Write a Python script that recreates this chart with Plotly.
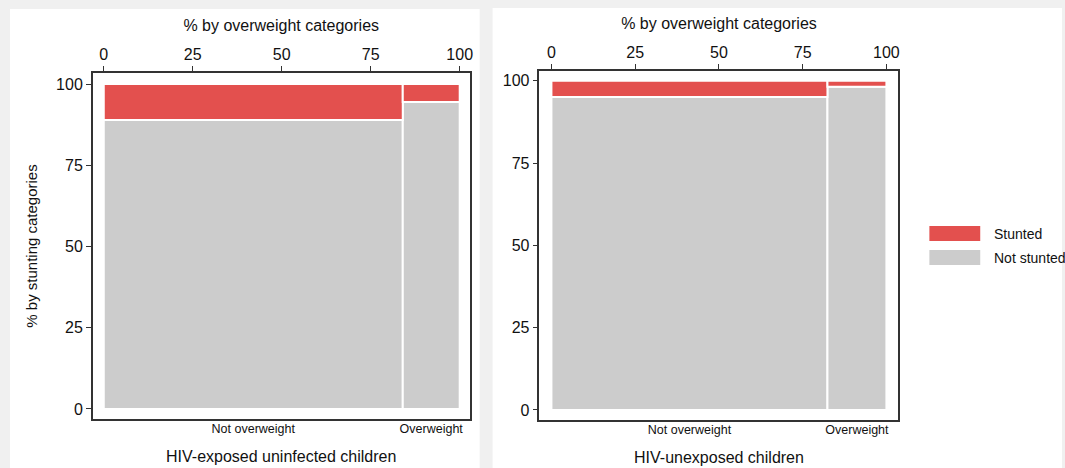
import plotly.graph_objects as go

# Mosaic data: share of each overweight category (column width, %) and
# share stunted / not stunted within each column (%).
categories = ["Not overweight", "Overweight"]
groups = ["HIV-exposed uninfected children", "HIV-unexposed children"]

heu_width = [84.0, 16.0]
heu_stunted = [11.1, 5.5]
heu_not_stunted = [88.9, 94.5]

hue_width = [82.4, 17.6]
hue_stunted = [4.9, 1.8]
hue_not_stunted = [95.1, 98.2]

series_names = ["Stunted", "Not stunted"]
ticks = [0, 25, 50, 75, 100]

RED = "#e3504e"
GREY = "#cccccc"
FONT = "Liberation Sans, Arial, sans-serif"
W, H = 1065, 468


def px_x(v):
    return v / W


def px_y(v):
    return 1 - v / H


fig = go.Figure()

panels = [
    dict(widths=heu_width, stunted=heu_stunted, not_stunted=heu_not_stunted,
         xa="x", ya="y", xa2="x3",
         xdom=[93, 471], ydom=[73, 419],
         xrange=[-3.1, 102.8], yrange=[-3.1, 103.4], showy=True),
    dict(widths=hue_width, stunted=hue_stunted, not_stunted=hue_not_stunted,
         xa="x2", ya="y2", xa2="x4",
         xdom=[541, 901], ydom=[71, 420],
         xrange=[-3.57, 103.6], yrange=[-3.04, 103.0], showy=False),
]

for p in panels:
    lefts = [sum(p["widths"][:i]) for i in range(len(p["widths"]))]
    centers = [l + w / 2 for l, w in zip(lefts, p["widths"])]
    fig.add_trace(go.Bar(
        x=centers, y=p["not_stunted"], width=p["widths"], base=0,
        marker=dict(color=GREY, line=dict(color="white", width=2)),
        name=series_names[1], showlegend=False, xaxis=p["xa"], yaxis=p["ya"]))
    fig.add_trace(go.Bar(
        x=centers, y=p["stunted"], width=p["widths"], base=p["not_stunted"],
        marker=dict(color=RED, line=dict(color="white", width=2)),
        name=series_names[0], showlegend=False, xaxis=p["xa"], yaxis=p["ya"]))
    p["centers"] = centers

layout = dict(
    width=W, height=H, margin=dict(l=0, r=0, t=0, b=0),
    paper_bgcolor="#f0f0f0", plot_bgcolor="white",
    font=dict(family=FONT, color="#111111"),
    barmode="overlay", showlegend=False,
)

axis_common = dict(showgrid=False, zeroline=False, showline=True, linecolor="#333333",
                   linewidth=1.5, mirror=True, ticks="outside", ticklen=5,
                   tickcolor="#333333", tickfont=dict(size=16, family=FONT))

for i, p in enumerate(panels):
    xname = "xaxis" if i == 0 else "xaxis2"
    yname = "yaxis" if i == 0 else "yaxis2"
    bname = "xaxis3" if i == 0 else "xaxis4"
    layout[xname] = dict(
        axis_common, domain=[px_x(p["xdom"][0]), px_x(p["xdom"][1])],
        range=p["xrange"], side="top", tickvals=ticks, anchor=p["ya"],
        title=dict(text="% by overweight categories", font=dict(size=16), standoff=10))
    layout[yname] = dict(
        axis_common, domain=[px_y(p["ydom"][1]), px_y(p["ydom"][0])],
        range=p["yrange"], tickvals=ticks, anchor=p["xa"],
        title=dict(text="% by stunting categories" if p["showy"] else "",
                   font=dict(size=15), standoff=15))
    layout[bname] = dict(
        overlaying=p["xa"], side="bottom", range=p["xrange"], anchor=p["ya"],
        showgrid=False, zeroline=False, showline=False, ticks="",
        tickvals=p["centers"], ticktext=categories,
        tickfont=dict(size=12.5, family=FONT),
        title=dict(text=groups[i], font=dict(size=16), standoff=16))

# invisible traces to register the bottom category axes
for i, p in enumerate(panels):
    fig.add_trace(go.Scatter(x=p["centers"], y=[0, 0], mode="markers",
                             marker=dict(opacity=0), hoverinfo="skip",
                             showlegend=False, xaxis=p["xa2"], yaxis=p["ya"]))

fig.update_layout(**layout)

# white panel backgrounds
shapes = [
    dict(type="rect", xref="paper", yref="paper", layer="below",
         x0=px_x(10), x1=px_x(481), y0=0, y1=px_y(9),
         fillcolor="white", line=dict(width=0)),
    dict(type="rect", xref="paper", yref="paper", layer="below",
         x0=px_x(494), x1=1, y0=0, y1=px_y(8),
         fillcolor="white", line=dict(width=0)),
]

# legend swatches and labels
legend_colors = [RED, GREY]
legend_rows = [226, 250]
annotations = []
for name, col, top in zip(series_names, legend_colors, legend_rows):
    shapes.append(dict(type="rect", xref="paper", yref="paper",
                       x0=px_x(932), x1=px_x(983), y0=px_y(top + 15), y1=px_y(top),
                       fillcolor=col, line=dict(width=0)))
    annotations.append(dict(xref="paper", yref="paper", x=px_x(995), y=px_y(top + 7.5),
                            text=name, showarrow=False, xanchor="left", yanchor="middle",
                            font=dict(size=14, family=FONT, color="#111111")))

fig.update_layout(shapes=shapes, annotations=annotations)

fig.write_html("out.html")
